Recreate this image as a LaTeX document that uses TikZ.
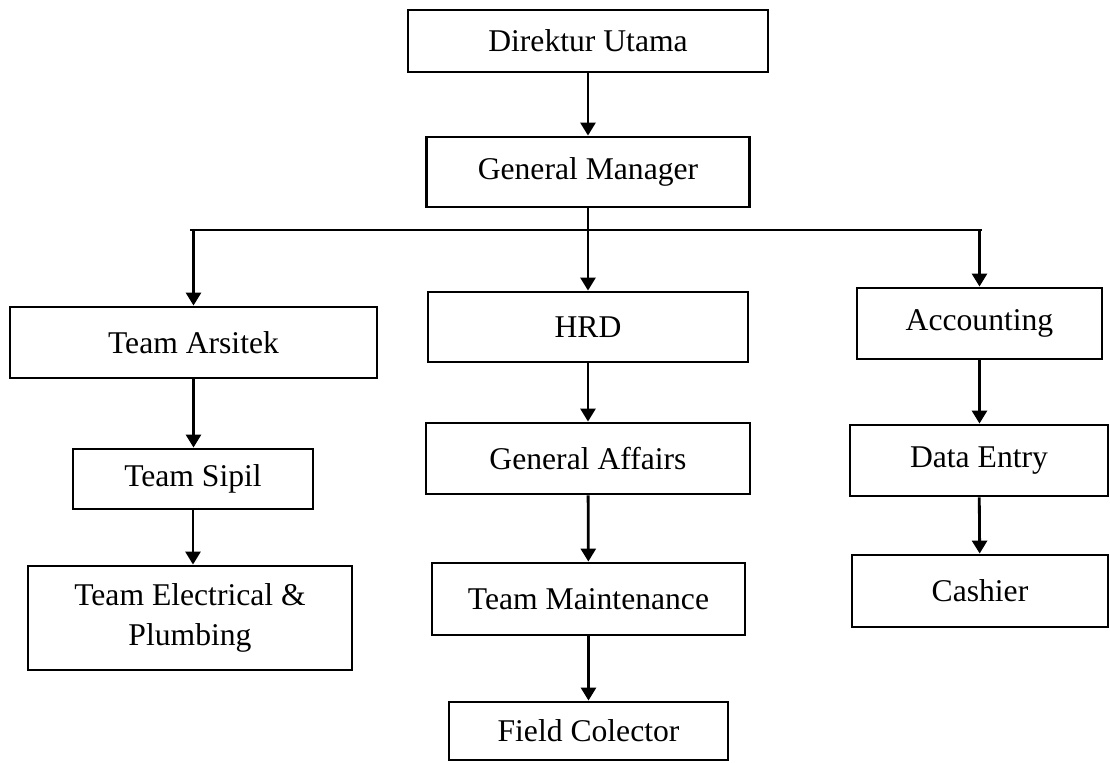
\documentclass[tikz,border=0pt]{standalone}
\usepackage{fontspec}
\setmainfont{Liberation Serif}
\usetikzlibrary{arrows.meta}

\begin{document}
\begin{tikzpicture}[
  unit/.style={draw, line width=.8pt, minimum height=.71cm, inner sep=2pt,
    align=center, font=\fontsize{9}{11.4}\selectfont},
  link/.style={line width=.8pt, -{Triangle[length=1.3mm,width=1.5mm]}}
]
\useasboundingbox (0,0) rectangle (11.10,7.63);
\def\branch{5.33}
% top
\node[unit, minimum width=3.60cm, minimum height=.62cm] (dirut) at (5.88,7.22) {Direktur Utama};
\node[unit, minimum width=3.23cm, minimum height=.70cm] (gm) at (5.88,5.91) {General Manager};
% second row
\node[unit, minimum width=3.67cm] (arsitek) at (1.935,4.205) {Team Arsitek};
\node[unit, minimum width=3.20cm, minimum height=.70cm] (hrd) at (5.88,4.36) {HRD};
\node[unit, minimum width=2.45cm] (acc) at (9.795,4.395) {Accounting};
% left column
\node[unit, minimum width=2.40cm, minimum height=.60cm] (sipil) at (1.93,2.84) {Team Sipil};
\node[unit, minimum width=3.24cm, minimum height=1.04cm] (elec) at (1.90,1.45) {Team Electrical \&\\Plumbing};
% middle column
\node[unit, minimum width=3.24cm] (ga) at (5.88,3.045) {General Affairs};
\node[unit, minimum width=3.13cm, minimum height=.72cm] (maint) at (5.885,1.64) {Team Maintenance};
\node[unit, minimum width=2.79cm, minimum height=.58cm] (field) at (5.885,.32) {Field Colector};
% right column
\node[unit, minimum width=2.58cm] (entry) at (9.79,3.025) {Data Entry};
\node[unit, minimum width=2.56cm, minimum height=.72cm] (cash) at (9.80,1.72) {Cashier};

\coordinate (split) at (5.88,\branch);
\draw[link] (dirut) -- (gm);
\draw[link] (gm) -- (hrd);
\draw[line width=.8pt] (1.90,\branch) -- (9.82,\branch);
\draw[link] (split) -| (arsitek.north);
\draw[link] (split) -| (acc.north);
\draw[link] (arsitek) -- (arsitek |- sipil.north);
\draw[link] (sipil) -- (sipil |- elec.north);
\draw[link] (hrd) -- (ga);
\draw[link] (ga) -- (maint);
\draw[link] (maint) -- (field);
\draw[link] (acc) -- (acc |- entry.north);
\draw[link] (entry) -- (cash);
\end{tikzpicture}
\end{document}
